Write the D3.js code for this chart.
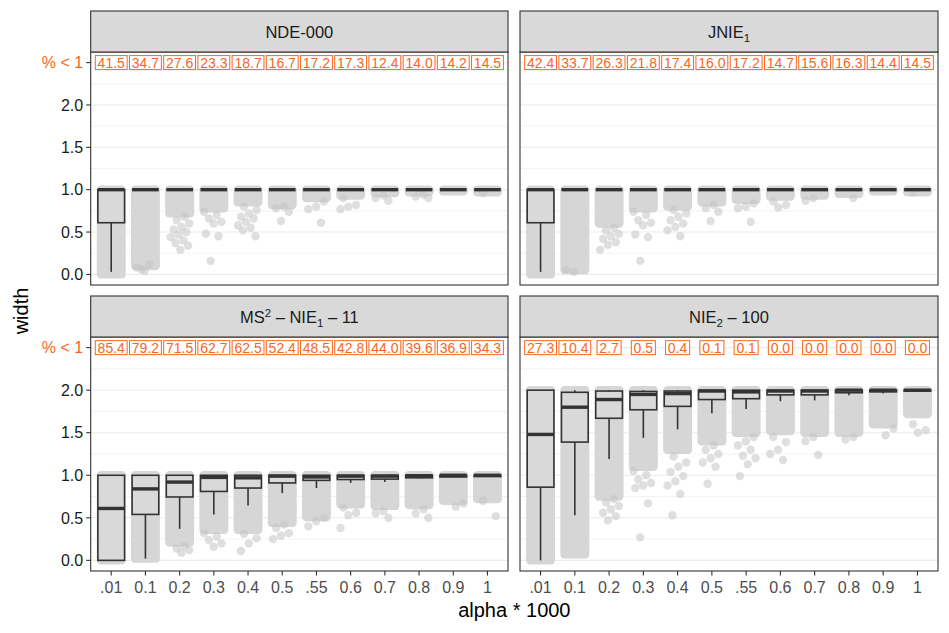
<!DOCTYPE html>
<html>
<head>
<meta charset="utf-8">
<script src="https://cdn.jsdelivr.net/npm/d3@7"></script>
<style>
  body { margin: 0; background: #fff; }
  svg { font-family: "Liberation Sans", Arial, Helvetica, sans-serif; }
</style>
</head>
<body>
<div id="chart"></div>
<script>
// categories on the x axis
const categories = [".01", "0.1", "0.2", "0.3", "0.4", "0.5", ".55", "0.6", "0.7", "0.8", "0.9", "1"];
const yTicks = [0, 0.5, 1, 1.5, 2];
const yMinor = [0.25, 0.75, 1.25, 1.75, 2.25];
const labelRow = 2.5;

// strip titles, split in [text, kind] parts
const stripNDE = [["NDE-000", "n"]];
const stripJNIE = [["JNIE", "n"], ["1", "sub"]];
const stripMS = [["MS", "n"], ["2", "sup"], [" \u2013 NIE", "n"], ["1", "sub"], [" \u2013 11", "n"]];
const stripNIE2 = [["NIE", "n"], ["2", "sub"], [" \u2013 100", "n"]];

// "% < 1" labels
const pctNDE = [41.5, 34.7, 27.6, 23.3, 18.7, 16.7, 17.2, 17.3, 12.4, 14.0, 14.2, 14.5];
const pctJNIE = [42.4, 33.7, 26.3, 21.8, 17.4, 16.0, 17.2, 14.7, 15.6, 16.3, 14.4, 14.5];
const pctMS = [85.4, 79.2, 71.5, 62.7, 62.5, 52.4, 48.5, 42.8, 44.0, 39.6, 36.9, 34.3];
const pctNIE2 = [27.3, 10.4, 2.7, 0.5, 0.4, 0.1, 0.1, 0.0, 0.0, 0.0, 0.0, 0.0];

// box stats: [lower whisker, q1, median, q3, upper whisker]
const boxNDE = [
  [0.03, 0.61, 1, 1, 1], [1, 1, 1, 1, 1], [1, 1, 1, 1, 1], [1, 1, 1, 1, 1],
  [1, 1, 1, 1, 1], [1, 1, 1, 1, 1], [1, 1, 1, 1, 1], [1, 1, 1, 1, 1],
  [1, 1, 1, 1, 1], [1, 1, 1, 1, 1], [1, 1, 1, 1, 1], [1, 1, 1, 1, 1]
];
const boxJNIE = [
  [0.03, 0.61, 1, 1, 1], [1, 1, 1, 1, 1], [1, 1, 1, 1, 1], [1, 1, 1, 1, 1],
  [1, 1, 1, 1, 1], [1, 1, 1, 1, 1], [1, 1, 1, 1, 1], [1, 1, 1, 1, 1],
  [1, 1, 1, 1, 1], [1, 1, 1, 1, 1], [1, 1, 1, 1, 1], [1, 1, 1, 1, 1]
];
const boxMS = [
  [0, 0, 0.61, 1, 1], [0.02, 0.54, 0.84, 1, 1], [0.37, 0.745, 0.92, 1, 1],
  [0.54, 0.81, 0.975, 1, 1], [0.645, 0.85, 0.97, 1, 1], [0.79, 0.91, 0.99, 1, 1],
  [0.85, 0.94, 0.98, 1, 1], [0.91, 0.95, 0.99, 1, 1], [0.92, 0.955, 0.99, 1, 1],
  [0.965, 0.97, 0.995, 1, 1], [0.98, 0.98, 1, 1, 1], [0.985, 0.985, 1, 1, 1]
];
const boxNIE2 = [
  [0, 0.86, 1.48, 2, 2], [0.53, 1.39, 1.8, 1.975, 2], [1.19, 1.67, 1.89, 1.99, 2],
  [1.44, 1.77, 1.95, 1.985, 2], [1.54, 1.81, 1.96, 1.99, 2], [1.73, 1.89, 1.99, 2, 2],
  [1.78, 1.9, 1.98, 2, 2], [1.87, 1.945, 1.99, 2, 2], [1.88, 1.945, 1.99, 2, 2],
  [1.94, 1.97, 2, 2, 2], [1.96, 1.98, 2, 2, 2], [1.985, 1.99, 2, 2, 2]
];

// range where the jittered points overlap into a solid cloud: [low, high]
const cloudNDE = [[0, 1], [0.1, 1], [0.72, 1], [0.78, 1], [0.85, 1], [0.82, 1], [0.9, 1], [0.93, 1], [0.96, 1], [0.97, 1], [0.98, 1], [0.97, 1]];
const cloudJNIE = [[0, 1], [0.05, 1], [0.6, 1], [0.78, 1], [0.8, 1], [0.85, 1], [0.88, 1], [0.92, 1], [0.93, 1], [0.95, 1], [0.98, 1], [0.97, 1]];
const cloudMS = [[0, 1], [0.02, 1], [0.21, 1], [0.36, 1], [0.36, 1], [0.44, 1], [0.51, 1], [0.66, 1], [0.64, 1], [0.65, 1], [0.7, 1], [0.72, 1]];
const cloudNIE2 = [[0, 2], [0.07, 2], [0.75, 2], [1.1, 2], [1.3, 2], [1.4, 2], [1.5, 2], [1.52, 2], [1.5, 2], [1.5, 2], [1.6, 2], [1.72, 2]];

// single points standing out from the cloud
const ptsNDE = [
  [], [0.04, 0.08, 0.12, 0.06],
  [0.68, 0.64, 0.6, 0.56, 0.53, 0.5, 0.47, 0.44, 0.4, 0.37, 0.34, 0.29],
  [0.74, 0.7, 0.66, 0.62, 0.6, 0.48, 0.45, 0.16],
  [0.8, 0.76, 0.72, 0.68, 0.66, 0.62, 0.58, 0.55, 0.52, 0.45],
  [0.8, 0.78, 0.74, 0.63], [0.86, 0.8, 0.77, 0.61], [0.9, 0.82, 0.8, 0.77],
  [0.93, 0.9, 0.87], [0.94, 0.92, 0.9], [], [0.96]
];
const ptsJNIE = [
  [], [0.03, 0.06],
  [0.55, 0.52, 0.48, 0.45, 0.42, 0.38, 0.35, 0.29],
  [0.74, 0.7, 0.64, 0.61, 0.58, 0.47, 0.44, 0.16],
  [0.76, 0.72, 0.68, 0.64, 0.6, 0.56, 0.52, 0.45],
  [0.82, 0.78, 0.74, 0.63], [0.84, 0.8, 0.78, 0.62], [0.86, 0.82, 0.79],
  [0.9, 0.87], [0.9], [], [0.97]
];
const ptsMS = [
  [], [], [0.17, 0.14, 0.12, 0.09], [0.32, 0.28, 0.24, 0.2, 0.16],
  [0.31, 0.26, 0.2, 0.11], [0.42, 0.38, 0.32, 0.29, 0.25], [0.5, 0.46, 0.4],
  [0.62, 0.56, 0.53, 0.38], [0.58, 0.55, 0.5], [0.6, 0.55, 0.5], [0.67, 0.63], [0.7, 0.52]
];
const ptsNIE2 = [
  [], [], [0.72, 0.68, 0.64, 0.6, 0.56, 0.52, 0.47],
  [1.05, 1.0, 0.95, 0.91, 0.88, 0.85, 0.67, 0.27],
  [1.22, 1.15, 1.1, 1.04, 0.99, 0.93, 0.88, 0.78, 0.53],
  [1.35, 1.3, 1.25, 1.2, 1.15, 1.1, 0.9],
  [1.45, 1.4, 1.35, 1.3, 1.23, 1.2, 1.13, 0.99],
  [1.45, 1.39, 1.3, 1.25, 1.18], [1.45, 1.4, 1.24], [1.45, 1.42], [1.55, 1.47], [1.6, 1.53, 1.5]
];

const panels = [
  { strip: stripNDE, pct: pctNDE, box: boxNDE, cloud: cloudNDE, pts: ptsNDE, col: 0, row: 0 },
  { strip: stripJNIE, pct: pctJNIE, box: boxJNIE, cloud: cloudJNIE, pts: ptsJNIE, col: 1, row: 0 },
  { strip: stripMS, pct: pctMS, box: boxMS, cloud: cloudMS, pts: ptsMS, col: 0, row: 1 },
  { strip: stripNIE2, pct: pctNIE2, box: boxNIE2, cloud: cloudNIE2, pts: ptsNIE2, col: 1, row: 1 }
];

const width = 949, height = 633;
const colX = [[90.7, 508], [520, 938]];
const rowY = [[52, 285], [337, 571]];
const stripH = 41;
const orange = "#f8661e";
const dark = "#333333";

const svg = d3.select("#chart").append("svg")
  .attr("width", width)
  .attr("height", height);

svg.append("rect").attr("width", width).attr("height", height).attr("fill", "#fff");

const r = 4.2;

panels.forEach(function (p) {
  const [x0, x1] = colX[p.col];
  const [y0, y1] = rowY[p.row];

  const x = d3.scalePoint().domain(categories).range([x0, x1]).padding(0.6);
  const y = d3.scaleLinear().domain([-0.125, 2.625]).range([y1, y0]);
  const step = x.step();
  const boxW = 0.78 * step;
  const jit = 0.3 * step;

  const g = svg.append("g");

  g.append("rect")
    .attr("x", x0).attr("y", y0)
    .attr("width", x1 - x0).attr("height", y1 - y0)
    .attr("fill", "#fff");

  // grid
  g.selectAll(".minor").data(yMinor).enter().append("line")
    .attr("x1", x0).attr("x2", x1)
    .attr("y1", d => y(d)).attr("y2", d => y(d))
    .attr("stroke", "#ebebeb").attr("stroke-width", 0.6);
  g.selectAll(".major").data(yTicks.concat([labelRow])).enter().append("line")
    .attr("x1", x0).attr("x2", x1)
    .attr("y1", d => y(d)).attr("y2", d => y(d))
    .attr("stroke", "#ebebeb").attr("stroke-width", 1.1);

  // point clouds
  g.selectAll(".cloud").data(p.cloud).enter().append("rect")
    .attr("x", (d, i) => x(categories[i]) - jit - r)
    .attr("width", 2 * (jit + r))
    .attr("y", d => y(d[1]) - r)
    .attr("height", d => y(d[0]) - y(d[1]) + 2 * r)
    .attr("rx", r).attr("ry", r)
    .attr("fill", "#d6d6d6");

  // single points
  const singles = [];
  p.pts.forEach(function (vals, c) {
    vals.forEach(function (v, i) {
      const f = (i * 0.6180339 + c * 0.283 + 0.17) % 1;
      singles.push({ cx: x(categories[c]) + (f - 0.5) * 2 * jit, v: v });
    });
  });
  g.selectAll(".pt").data(singles).enter().append("circle")
    .attr("cx", d => d.cx)
    .attr("cy", d => y(d.v))
    .attr("r", r)
    .attr("fill", "#c4c4c4")
    .attr("fill-opacity", 0.55);

  // boxplots
  const bx = g.selectAll(".box").data(p.box).enter().append("g");
  bx.append("line")
    .attr("x1", (d, i) => x(categories[i])).attr("x2", (d, i) => x(categories[i]))
    .attr("y1", d => y(d[0])).attr("y2", d => y(d[1]))
    .attr("stroke", dark).attr("stroke-width", 1.6);
  bx.append("line")
    .attr("x1", (d, i) => x(categories[i])).attr("x2", (d, i) => x(categories[i]))
    .attr("y1", d => y(d[3])).attr("y2", d => y(d[4]))
    .attr("stroke", dark).attr("stroke-width", 1.6);
  bx.append("rect")
    .attr("x", (d, i) => x(categories[i]) - boxW / 2)
    .attr("width", boxW)
    .attr("y", d => y(d[3]))
    .attr("height", d => y(d[1]) - y(d[3]))
    .attr("fill", "#d9d9d9")
    .attr("fill-opacity", 0.9)
    .attr("stroke", dark).attr("stroke-width", 1.6);
  bx.append("line")
    .attr("x1", (d, i) => x(categories[i]) - boxW / 2)
    .attr("x2", (d, i) => x(categories[i]) + boxW / 2)
    .attr("y1", d => y(d[2])).attr("y2", d => y(d[2]))
    .attr("stroke", dark).attr("stroke-width", 3.4);

  // "% < 1" labels
  const lab = g.selectAll(".lab").data(p.pct).enter().append("g")
    .attr("transform", (d, i) => `translate(${x(categories[i])},${y(labelRow)})`);
  lab.append("rect").attr("class", "lbox");
  lab.append("text")
    .attr("text-anchor", "middle")
    .attr("dy", "0.36em")
    .attr("font-size", 14)
    .attr("fill", orange)
    .text(d => d.toFixed(1));
  lab.each(function () {
    const t = d3.select(this).select("text").node().getComputedTextLength();
    d3.select(this).select("rect")
      .attr("x", -t / 2 - 2.3).attr("width", t + 4.6)
      .attr("y", -7).attr("height", 14)
      .attr("fill", "#fff")
      .attr("stroke", orange).attr("stroke-width", 1);
  });

  // border
  g.append("rect")
    .attr("x", x0).attr("y", y0)
    .attr("width", x1 - x0).attr("height", y1 - y0)
    .attr("fill", "none").attr("stroke", dark).attr("stroke-width", 1.1);

  // strip
  g.append("rect")
    .attr("x", x0).attr("y", y0 - stripH)
    .attr("width", x1 - x0).attr("height", stripH)
    .attr("fill", "#d9d9d9").attr("stroke", dark).attr("stroke-width", 1.1);
  const st = g.append("text")
    .attr("x", (x0 + x1) / 2).attr("y", y0 - stripH / 2 + 6)
    .attr("text-anchor", "middle")
    .attr("font-size", 16.5)
    .attr("fill", "#1a1a1a");
  let shift = 0;
  p.strip.forEach(function (part) {
    const kind = part[1];
    const target = kind === "sub" ? 4 : kind === "sup" ? -6 : 0;
    st.append("tspan")
      .attr("dy", target - shift)
      .attr("font-size", kind === "n" ? 16.5 : 11.5)
      .text(part[0]);
    shift = target;
  });

  // y axis on the left column
  if (p.col === 0) {
    const ya = g.append("g");
    const ticks = yTicks.concat([labelRow]);
    ya.selectAll("line").data(ticks).enter().append("line")
      .attr("x1", x0 - 4.5).attr("x2", x0)
      .attr("y1", d => y(d)).attr("y2", d => y(d))
      .attr("stroke", dark).attr("stroke-width", 1.1);
    ya.selectAll("text").data(ticks).enter().append("text")
      .attr("x", x0 - 7.5)
      .attr("y", d => y(d))
      .attr("dy", "0.36em")
      .attr("text-anchor", "end")
      .attr("font-size", 16)
      .attr("fill", d => d === labelRow ? orange : "#1a1a1a")
      .text(d => d === labelRow ? "% < 1" : d3.format(".1f")(d));
  }

  // x axis on the bottom row
  if (p.row === 1) {
    const xa = g.append("g");
    xa.selectAll("line").data(categories).enter().append("line")
      .attr("x1", d => x(d)).attr("x2", d => x(d))
      .attr("y1", y1).attr("y2", y1 + 4.5)
      .attr("stroke", dark).attr("stroke-width", 1.1);
    xa.selectAll("text").data(categories).enter().append("text")
      .attr("x", d => x(d))
      .attr("y", y1 + 22)
      .attr("text-anchor", "middle")
      .attr("font-size", 16)
      .attr("fill", "#4d4d4d")
      .text(d => d);
  }
});

// axis titles
svg.append("text")
  .attr("x", (colX[0][0] + colX[1][1]) / 2)
  .attr("y", 617)
  .attr("text-anchor", "middle")
  .attr("font-size", 20)
  .attr("fill", "#000")
  .text("alpha * 1000");

svg.append("text")
  .attr("transform", "translate(28,311) rotate(-90)")
  .attr("text-anchor", "middle")
  .attr("font-size", 20)
  .attr("fill", "#000")
  .text("width");
</script>
</body>
</html>
